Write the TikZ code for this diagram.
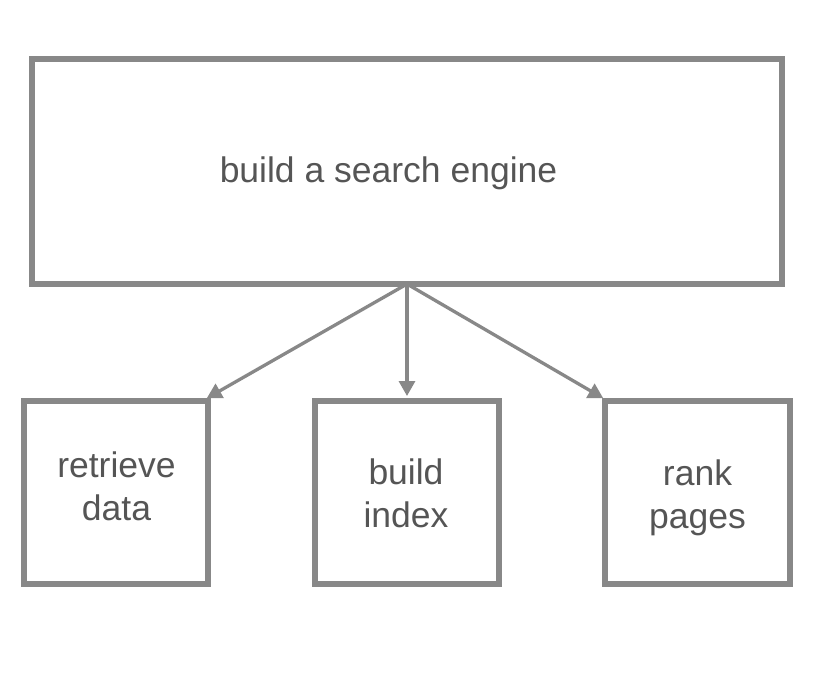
\documentclass[tikz,border=0pt]{standalone}
\usepackage{fontspec}
\setmainfont{Liberation Sans}
\usetikzlibrary{arrows.meta}
\definecolor{linegray}{HTML}{888888}
\definecolor{textgray}{HTML}{555555}
\begin{document}
\begin{tikzpicture}[x=1pt,y=-1pt,
  box/.style={draw=linegray,line width=6pt,rectangle,inner sep=0pt,outer sep=0pt},
  lbl/.style={text=textgray,inner sep=0pt,align=center,font=\fontsize{35.5}{43}\selectfont},
  conn/.style={draw=linegray,line width=3.3pt,-{Triangle[length=15pt,width=16pt]}}]
\useasboundingbox (0,0) rectangle (826,689);
\node[box,minimum width=750pt,minimum height=225pt] (top) at (407,171.5) {};
\node[box,minimum width=184pt,minimum height=183pt] (left) at (116,492.5) {};
\node[box,minimum width=184pt,minimum height=183pt] (mid) at (407,492.5) {};
\node[box,minimum width=185pt,minimum height=183pt] (right) at (697.5,492.5) {};
\node[lbl,anchor=base] (ttop) at (388.5,182) {build a search engine};
\node[lbl] (tleft) at (116.5,486.5) {retrieve\\data};
\node[lbl] (tmid) at (406,493.5) {build\\index};
\node[lbl] (tright) at (697.5,497.5) {rank\\pages};
\draw[conn] (top.south) -- ([shift={(-1.3,-2.7)}]left.north east);
\draw[conn] (top.south) -- ([shift={(0,-5)}]mid.north);
\draw[conn] (top.south) -- ([shift={(-1.7,-2.7)}]right.north west);
\end{tikzpicture}
\end{document}
